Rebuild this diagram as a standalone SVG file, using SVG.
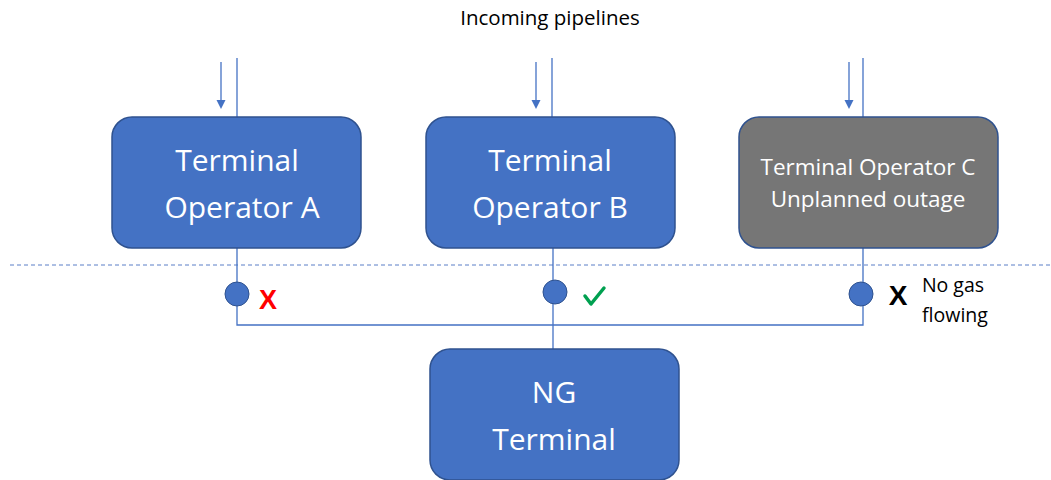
<svg xmlns="http://www.w3.org/2000/svg" width="1051" height="480" viewBox="0 0 1051 480">
<style>
.box{fill:#4472C4;stroke:#2F528F;stroke-width:1.5}
.gray{fill:#767676;stroke:#2F528F;stroke-width:1.5}
.t{font-family:"Open Sans","Liberation Sans",sans-serif;fill:#fff;text-anchor:middle}
.big{font-size:30px}
.small{font-size:22.5px}
.ln{stroke:#4472C4;stroke-width:1.3;fill:none}
.dot{fill:#4472C4;stroke:#2F528F;stroke-width:1}
.lab{font-family:"Open Sans","Liberation Sans",sans-serif;fill:#000}
</style>
<text class="lab" x="550" y="25" font-size="20.5" text-anchor="middle">Incoming pipelines</text>
<line x1="10" y1="265" x2="1051" y2="265" stroke="#5B7FC7" stroke-width="1" stroke-dasharray="4,3"/>
<g id="connectors">
<line class="ln" x1="237" y1="58" x2="237" y2="117"/>
<line class="ln" x1="552" y1="58" x2="552" y2="117"/>
<line class="ln" x1="863" y1="58" x2="863" y2="117"/>
<line class="ln" x1="221" y1="62" x2="221" y2="102"/>
<path d="M216.5,100 L225.5,100 L221,109 Z" fill="#4472C4"/>
<line class="ln" x1="536" y1="62" x2="536" y2="102"/>
<path d="M531.5,100 L540.5,100 L536,109 Z" fill="#4472C4"/>
<line class="ln" x1="849" y1="62" x2="849" y2="102"/>
<path d="M844.5,100 L853.5,100 L849,109 Z" fill="#4472C4"/>
<polyline class="ln" points="237,248 237,325 863,325 863,248"/>
<line class="ln" x1="553" y1="248" x2="553" y2="349"/>
<circle class="dot" cx="237" cy="294" r="12"/>
<circle class="dot" cx="555" cy="292" r="12"/>
<circle class="dot" cx="861" cy="294" r="12"/>
</g>
<g id="nodeA">
<rect class="box" x="112" y="117" width="249" height="131" rx="20"/>
<text class="t big" x="237" y="171">Terminal</text>
<text class="t big" x="242" y="218">Operator A</text>
</g>
<g id="nodeB">
<rect class="box" x="426" y="117" width="249" height="131" rx="20"/>
<text class="t big" x="550" y="171">Terminal</text>
<text class="t big" x="550" y="218">Operator B</text>
</g>
<g id="nodeC">
<rect class="gray" x="739" y="117" width="259" height="131" rx="20"/>
<text class="t small" x="868" y="175">Terminal Operator C</text>
<text class="t small" x="868" y="207">Unplanned outage</text>
</g>
<g id="nodeNG">
<rect class="box" x="430" y="349" width="249" height="131" rx="20"/>
<text class="t big" x="554" y="403">NG</text>
<text class="t big" x="554" y="450">Terminal</text>
</g>
<g id="status">
<text x="268" y="309" font-family="Liberation Sans,sans-serif" font-weight="bold" font-size="27" fill="#FF0000" text-anchor="middle">X</text>
<path d="M585,296 L591,304 L604,288" stroke="#00A050" stroke-width="3.5" fill="none" stroke-linecap="round" stroke-linejoin="round"/>
<text x="898" y="305" font-family="Liberation Sans,sans-serif" font-weight="bold" font-size="28" fill="#000" text-anchor="middle">X</text>
<text class="lab" x="953" y="292" font-size="19.5" text-anchor="middle">No gas</text>
<text class="lab" x="955" y="322" font-size="19.5" text-anchor="middle">flowing</text>
</g>
</svg>
